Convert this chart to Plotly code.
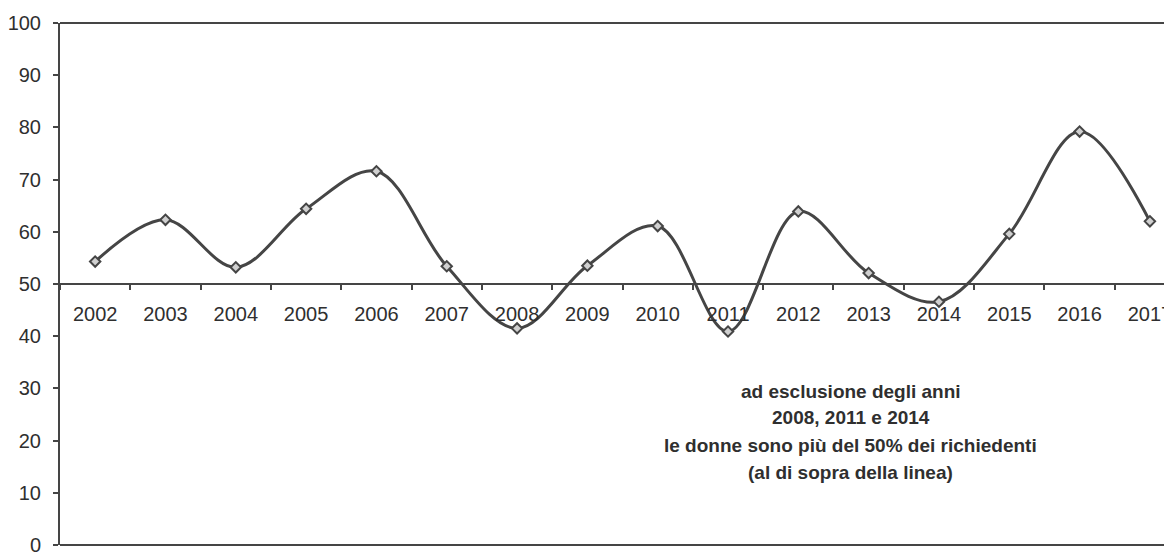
import plotly.graph_objects as go

years = ["2002", "2003", "2004", "2005", "2006", "2007", "2008", "2009",
         "2010", "2011", "2012", "2013", "2014", "2015", "2016", "2017"]
women_pct = [54.3, 62.3, 53.2, 64.4, 71.6, 53.4, 41.5, 53.5,
             61.1, 40.9, 63.9, 52.1, 46.6, 59.6, 79.2, 62.0]
y_ticks = [0, 10, 20, 30, 40, 50, 60, 70, 80, 90, 100]

note_lines = ["ad esclusione degli anni",
              "2008, 2011 e 2014",
              "le donne sono più del 50% dei richiedenti",
              "(al di sopra della linea)"]

INK = "#454545"
TXT = "#2f2f2f"
FONT = "Liberation Sans, Arial, sans-serif"

# page body has an 8px margin: figure spans 8..1172 x 8..556
fig = go.Figure()
fig.add_trace(go.Scatter(
    x=years, y=women_pct, mode="lines+markers",
    line=dict(color=INK, width=3, shape="spline", smoothing=1.0),
    marker=dict(symbol="diamond", size=8, color="#d0d0d0",
                line=dict(color=INK, width=2)),
    showlegend=False, hoverinfo="x+y",
))

# plot area in page pixels: x 58..1172, y 23..549
line_px = [394, 421, 449, 476]
annotations = [
    dict(text="<b>" + t + "</b>", xref="paper", yref="paper",
         x=(851 - 58) / 1114, y=(549 - py) / 526,
         xanchor="center", yanchor="middle", showarrow=False,
         font=dict(size=19, color=TXT, family=FONT))
    for t, py in zip(note_lines, line_px)
]

fig.update_layout(
    width=1164, height=548,
    margin=dict(l=50, r=0, t=15, b=7),
    paper_bgcolor="white", plot_bgcolor="white",
    font=dict(family=FONT, size=20, color=TXT),
    xaxis=dict(
        type="category", range=[-0.5, 15.3],
        anchor="free", position=0.5,
        showline=True, linecolor=INK, linewidth=2,
        ticks="outside", tickson="boundaries", ticklen=5, tickwidth=1.5,
        tickcolor=INK, showgrid=False, zeroline=False,
        tickfont=dict(size=20, color=TXT), ticklabelstandoff=12,
        ticklabeloverflow="allow",
    ),
    yaxis=dict(
        range=[0, 100], tickvals=y_ticks, domain=[0, 1],
        showline=True, linecolor=INK, linewidth=2,
        ticks="outside", ticklen=5, tickwidth=1.5, tickcolor=INK,
        showgrid=False, zeroline=False,
        tickfont=dict(size=20, color=TXT), ticklabelstandoff=8,
        ticklabeloverflow="allow",
    ),
    shapes=[
        dict(type="line", xref="paper", yref="paper", x0=0, x1=1, y0=1, y1=1,
             line=dict(color=INK, width=2)),
        dict(type="line", xref="paper", yref="paper", x0=0, x1=1, y0=0, y1=0,
             line=dict(color=INK, width=2)),
    ],
    annotations=annotations,
)

fig.write_html("out.html")
